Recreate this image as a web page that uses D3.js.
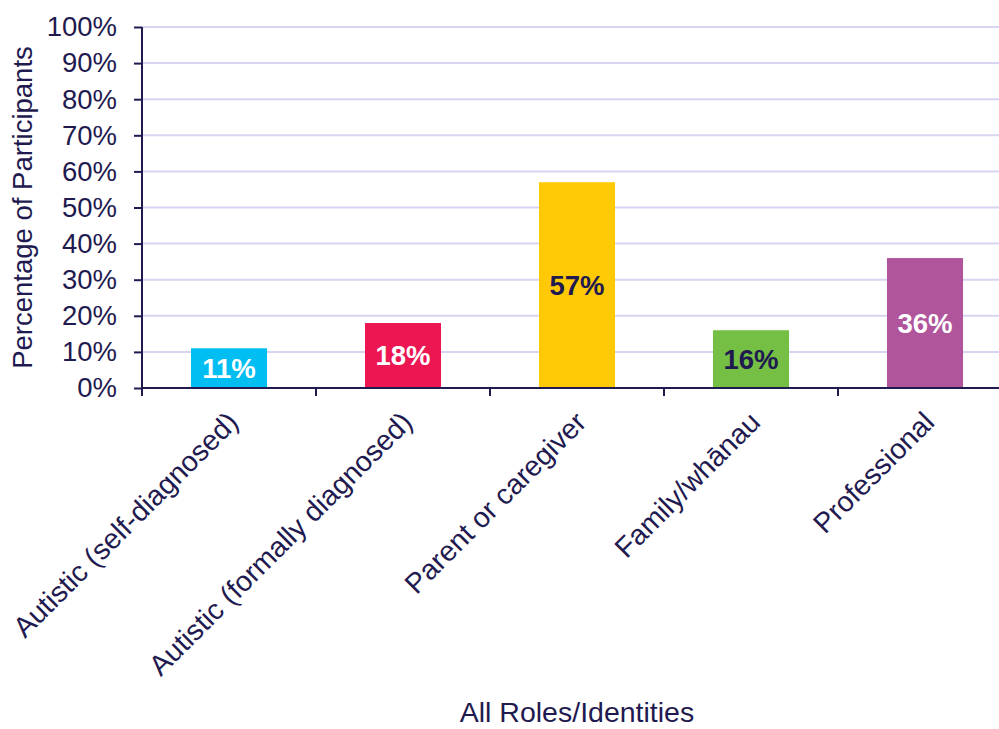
<!DOCTYPE html>
<html>
<head>
<meta charset="utf-8">
<script src="https://cdn.jsdelivr.net/npm/d3@7"></script>
<style>
  html, body { margin: 0; padding: 0; background: #ffffff; }
  svg { display: block; font-family: "Liberation Sans", Arial, sans-serif; }
</style>
</head>
<body>
<svg id="chart" width="999" height="729"></svg>
<script>
// Share of participants by role / identity
const categories = [
  "Autistic (self-diagnosed)",
  "Autistic (formally diagnosed)",
  "Parent or caregiver",
  "Family/whānau",
  "Professional"
];
const values = [11, 18, 57, 16, 36];
const barColors = ["#00bdf2", "#ec1652", "#ffca05", "#74bf44", "#b0559c"];
const labelColors = ["#ffffff", "#ffffff", "#1f1a4f", "#1f1a4f", "#ffffff"];
const yTicks = [0, 10, 20, 30, 40, 50, 60, 70, 80, 90, 100];
const yTitle = "Percentage of Participants";
const xTitle = "All Roles/Identities";

const ink = "#1f1a4f";
const gridColor = "#d8d4f1";

const svg = d3.select("#chart");
const margin = { left: 142, right: -13, top: 27, bottom: 341 };
const W = 999, H = 729;
const plotW = W - margin.left - margin.right;
const plotH = H - margin.top - margin.bottom;

const x = d3.scaleBand()
  .domain(categories)
  .range([margin.left, margin.left + plotW])
  .paddingInner(0.563)
  .paddingOuter(0.2815);

const y = d3.scaleLinear()
  .domain([0, 100])
  .range([margin.top + plotH, margin.top]);

// gridlines
svg.append("g")
  .selectAll("line")
  .data(yTicks.filter(d => d > 0))
  .join("line")
  .attr("x1", margin.left)
  .attr("x2", margin.left + plotW)
  .attr("y1", d => y(d))
  .attr("y2", d => y(d))
  .attr("stroke", gridColor)
  .attr("stroke-width", 2);

// bars
svg.append("g")
  .selectAll("rect")
  .data(values)
  .join("rect")
  .attr("x", (d, i) => x(categories[i]))
  .attr("width", x.bandwidth())
  .attr("y", d => y(d))
  .attr("height", d => y(0) - y(d))
  .attr("fill", (d, i) => barColors[i]);

// value labels centred in each bar
svg.append("g")
  .selectAll("text")
  .data(values)
  .join("text")
  .attr("x", (d, i) => x(categories[i]) + x.bandwidth() / 2)
  .attr("y", d => (y(d) + y(0)) / 2)
  .attr("dy", "0.36em")
  .attr("text-anchor", "middle")
  .attr("font-size", 27.5)
  .attr("font-weight", "bold")
  .attr("fill", (d, i) => labelColors[i])
  .text(d => d + "%");

// y axis
const yAxis = d3.axisLeft(y)
  .tickValues(yTicks)
  .tickSize(8)
  .tickPadding(17)
  .tickFormat(d => d + "%");

const gy = svg.append("g")
  .attr("transform", `translate(${margin.left},0)`)
  .call(yAxis);
gy.select(".domain").remove();
gy.selectAll(".tick line").attr("stroke", ink).attr("stroke-width", 2);
gy.selectAll(".tick text")
  .attr("fill", ink)
  .attr("font-size", 27.5)
  .attr("font-family", "Liberation Sans, Arial, sans-serif");

// y axis line
svg.append("line")
  .attr("x1", margin.left).attr("x2", margin.left)
  .attr("y1", y(100)).attr("y2", y(0))
  .attr("stroke", ink).attr("stroke-width", 2);

// x axis line
svg.append("line")
  .attr("x1", margin.left).attr("x2", margin.left + plotW)
  .attr("y1", y(0)).attr("y2", y(0))
  .attr("stroke", ink).attr("stroke-width", 2);

// x tick marks on the category boundaries
const step = x.step();
const boundaries = categories.map(c => x(c) - step * x.paddingInner() / 2);
boundaries.push(x(categories[categories.length - 1]) + x.bandwidth() + step * x.paddingInner() / 2);
svg.append("g")
  .selectAll("line")
  .data(boundaries)
  .join("line")
  .attr("x1", d => d)
  .attr("x2", d => d)
  .attr("y1", y(0))
  .attr("y2", y(0) + 8)
  .attr("stroke", ink)
  .attr("stroke-width", 2);

// rotated category labels
svg.append("g")
  .selectAll("text")
  .data(categories)
  .join("text")
  .attr("transform", d => `translate(${x(d) + x.bandwidth() / 2 + 11},${y(0) + 36}) rotate(-45)`)
  .attr("text-anchor", "end")
  .attr("font-size", 28.5)
  .attr("fill", ink)
  .text(d => d);

// axis titles
svg.append("text")
  .attr("transform", `translate(32,${(y(0) + y(100)) / 2}) rotate(-90)`)
  .attr("text-anchor", "middle")
  .attr("font-size", 27.5)
  .attr("fill", ink)
  .text(yTitle);

svg.append("text")
  .attr("x", margin.left + plotW / 2)
  .attr("y", 722)
  .attr("text-anchor", "middle")
  .attr("font-size", 28.5)
  .attr("fill", ink)
  .text(xTitle);
</script>
</body>
</html>
